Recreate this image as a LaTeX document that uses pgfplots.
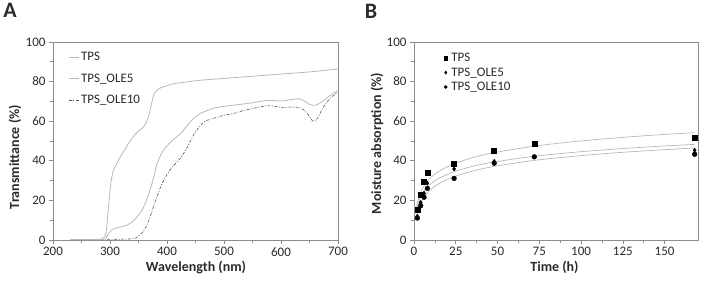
\documentclass[border=0pt]{standalone}
\usepackage{pgfplots}
\pgfplotsset{compat=1.18}
\usepackage{fontspec}
\setmainfont{Carlito}
\definecolor{axgray}{HTML}{8C8C8C}
\definecolor{tickc}{HTML}{2A2A2A}
\definecolor{lightc}{HTML}{B8B8B8}
\definecolor{darkc}{HTML}{555555}
\pgfplotsset{
  myaxis/.style={
    scale only axis, anchor=south west,
    axis line style={axgray, line width=0.6pt},
    tick style={axgray, line width=0.6pt},
    major tick length=4pt, minor tick length=3pt,
    tick align=outside, xtick pos=bottom, ytick pos=left,
    ymin=0, ymax=100, ytick={0,20,...,100}, minor y tick num=1,
    ticklabel style={font=\fontsize{13}{15}\selectfont, text=tickc},
    /pgf/number format/assume math mode=true,
    clip=false,
  }
}
\begin{document}
\begin{tikzpicture}
\useasboundingbox (0,0) rectangle (702pt,283pt);
% Panel A
\begin{axis}[myaxis, at={(53pt,43pt)}, width=285pt, height=198pt,
  xmin=200, xmax=700, xtick={200,300,...,700}, minor x tick num=1,
  legend style={draw=none, fill=none, at={(15pt,190pt)}, anchor=north west,
    font=\fontsize{13}{15}\selectfont, text=tickc, row sep=7.5pt, inner sep=0pt},
  legend cell align=left,
  legend image code/.code={\draw[#1] (0pt,0pt) -- (10pt,0pt);},
]
\addplot[lightc, line width=0.8pt, smooth] coordinates {
(230,0.3)(250,0.3)(270,0.3)(285,0.4)(290,1.5)(293,3.5)(296,12)(299,22)(302,30)(306,35)
(311,38)(319,42.5)(327,46)(334,49.5)(343,53)(350,55)(357,56.5)(362,58.5)(366,61)(370,65)
(373,69)(376,72.5)(379,74.5)(383,75.8)(390,77)(401,78)(413,79)(440,80)(459,80.7)(500,81.6)
(518,82)(550,82.7)(581,83.4)(600,83.8)(650,84.9)(700,86.3)};
\addlegendentry{TPS}
\addplot[lightc, line width=0.8pt, smooth] coordinates {
(230,0.2)(270,0.2)(290,0.3)(294,1.5)(298,3.5)(303,5)(310,6)(320,6.7)(330,7.5)(340,9.5)
(350,12.5)(358,16)(364,20)(370,25)(376,31)(381,37)(386,41)(392,44.5)(400,47.5)(410,50.5)
(424,53.8)(436,58)(447,61.5)(459,64)(472,65.5)(483,66.7)(500,67.5)(520,68.2)(550,69.3)
(576,70.5)(600,70.2)(620,71)(633,71.3)(642,70)(650,68.5)(657,68)(664,68.5)(675,70.5)
(686,73)(700,75.5)};
\addlegendentry{TPS\_OLE5}
\addplot[darkc, line width=0.6pt, smooth, dash pattern=on 3pt off 1.5pt on 1pt off 1.5pt] coordinates {
(295,0.3)(320,0.4)(340,0.6)(345,1)(352,2.5)(360,5)(366,8.4)(372,13)(378,18.5)(384,23)
(389,27)(395,30.5)(401,33.6)(407,36)(413,38)(424,41.5)(436,47)(448,53.8)(458,57.5)(465,59.7)
(476,61)(488,62)(500,63)(518,64)(535,65.5)(547,66.2)(560,67)(576,67.8)(590,67.5)(600,67)
(610,67)(622,67.2)(636,66.5)(646,64)(653,61)(658,59.8)(664,61.5)(672,66)(680,69.5)
(690,72.5)(700,74.8)};
\addlegendentry{TPS\_OLE10}
\end{axis}
% Panel B
\begin{axis}[myaxis, at={(414pt,43pt)}, width=284pt, height=198pt,
  xmin=0, xmax=170, xtick={0,25,...,150}, minor x tick num=1,
  legend style={draw=none, fill=none, at={(30pt,189pt)}, anchor=north west,
    font=\fontsize{13}{15}\selectfont, text=tickc, row sep=0.5pt, inner sep=0pt,
    column sep=2pt, nodes={inner sep=2pt}},
  legend cell align=left,
  legend image post style={mark size=1.6pt},
]
\addplot[only marks, mark=square*, mark size=2.5pt, black] coordinates {
(2,15.5)(4,23)(6,29.4)(8,34.2)(24,38.4)(48,45.1)(72,48.4)(168,51.7)};
\addlegendentry{TPS}
\addplot[only marks, mark=diamond*, mark size=2.1pt, black] coordinates {
(2,12)(4,19)(6,23.6)(8,28.7)(24,35.9)(48,39.7)(72,42)(168,45.3)};
\addlegendentry{TPS\_OLE5}
\addplot[only marks, mark=*, mark size=2.4pt, black] coordinates {
(2,11.1)(4,17.3)(6,21.6)(8,26.1)(24,31.1)(48,38.8)(72,42)(168,43.3)};
\addlegendentry{TPS\_OLE10}
\addplot[lightc, line width=0.7pt, smooth, forget plot] coordinates {
(1.5,16.1)(2,18.4)(3,21.7)(4,24.0)(6,27.3)(8,29.6)(12,32.9)(16,35.2)(24,38.5)(36,41.8)
(48,44.1)(72,47.4)(96,49.7)(120,51.5)(144,53.0)(168,54.2)};
\addplot[lightc, line width=0.7pt, smooth, forget plot] coordinates {
(1.5,15.0)(2,16.9)(3,19.8)(4,21.8)(6,24.7)(8,26.7)(12,29.6)(16,31.6)(24,34.5)(36,37.4)
(48,39.4)(72,42.3)(96,44.3)(120,45.9)(144,47.2)(168,48.3)};
\addplot[lightc, line width=0.7pt, smooth, forget plot] coordinates {
(1.5,11.4)(2,13.5)(3,16.5)(4,18.6)(6,21.7)(8,23.8)(12,26.8)(16,29.0)(24,32.0)(36,35.0)
(48,37.2)(72,40.2)(96,42.3)(120,44.0)(144,45.3)(168,46.5)};
\end{axis}
% titles and labels
\node[font=\fontsize{22}{24}\selectfont\bfseries, text=tickc] at (10pt,273pt) {A};
\node[font=\fontsize{22}{24}\selectfont\bfseries, text=tickc] at (371pt,271.5pt) {B};
\node[font=\fontsize{14}{16}\selectfont\bfseries, text=tickc, rotate=90] at (15pt,126pt) {Transmittance (\%)};
\node[font=\fontsize{14}{16}\selectfont\bfseries, text=tickc, rotate=90] at (377pt,139.5pt) {Moisture absorption (\%)};
\node[font=\fontsize{14}{16}\selectfont\bfseries, text=tickc] at (196pt,16pt) {Wavelength (nm)};
\node[font=\fontsize{14}{16}\selectfont\bfseries, text=tickc] at (554.5pt,16pt) {Time (h)};
\end{tikzpicture}
\end{document}
